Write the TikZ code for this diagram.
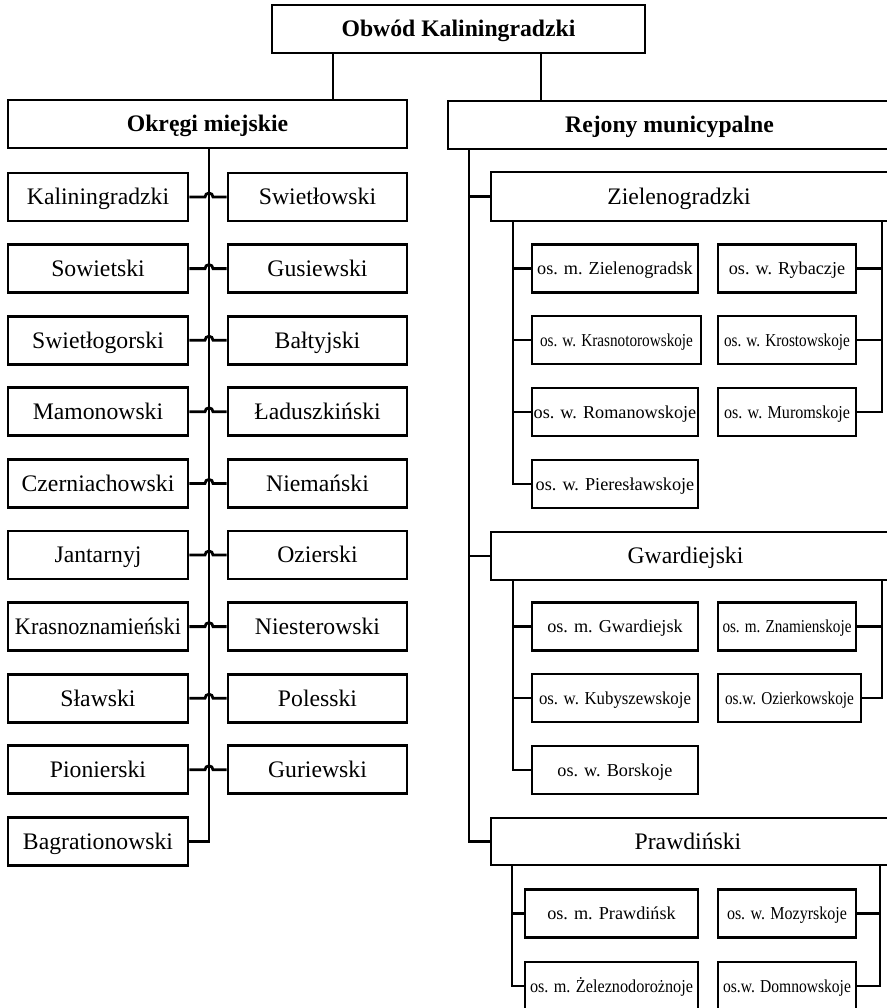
\documentclass[tikz,border=0pt]{standalone}
\usepackage{fontspec}
\setmainfont{Liberation Serif}
\usepackage{graphicx}
\usetikzlibrary{calc}
\newcommand\cw[2]{\resizebox{#1pt}{\height}{#2}}
\tikzset{
  box/.style={draw, line width=1.4pt, inner sep=0pt, minimum height=24pt, text height=7.8pt, text depth=0pt, font=\fontsize{11.85}{14}\selectfont},
  bbox/.style={box, font=\fontsize{11.85}{14}\selectfont\bfseries},
  lbox/.style={box, minimum width=90pt},
  rboxl/.style={box, minimum width=89.5pt},
  sbox/.style={draw, line width=1.4pt, inner sep=0pt, minimum height=24pt, text height=6pt, text depth=0pt, font=\fontsize{9.1}{11}\selectfont},
  ttext/.style={inner sep=0pt, text height=7.8pt, text depth=0pt, font=\fontsize{11.85}{14}\selectfont},
  conn/.style={line width=1.4pt},
}
\begin{document}
\begin{tikzpicture}[x=0.5pt,y=-0.5pt]
\useasboundingbox (0,0) rectangle (887,1008);
\clip (0,0) rectangle (887,1008);
% top level
\node[bbox, minimum width=186.5pt] (Top) at (458.5,29) {Obwód Kaliningradzki};
\node[bbox, minimum width=199.5pt] (Ok) at (207.5,124) {Okręgi miejskie};
\node[bbox, minimum width=221.5pt] (Rej) at (669.5,125) {Rejony municypalne};
\coordinate (c1) at (333,0);
\coordinate (c2) at (541,0);
\draw[conn] (Top.south -| c1) -- (Ok.north -| c1);
\draw[conn] (Top.south -| c2) -- (Rej.north -| c2);
% left column
\foreach \t [count=\i] in {Kaliningradzki,Sowietski,Swietłogorski,Mamonowski,Czerniachowski,Jantarnyj,{\cw{83}{Krasnoznamieński}},Sławski,Pionierski,Bagrationowski}
  \node[lbox] (L\i) at (98,{197+71.6*(\i-1)}) {\t};
\foreach \t [count=\i] in {Swietłowski,Gusiewski,Bałtyjski,Ładuszkiński,Niemański,Ozierski,Niesterowski,Polesski,Guriewski}
  \node[rboxl] (R\i) at (317.5,{197+71.6*(\i-1)}) {\t};
\coordinate (lt) at (209,148);
\draw[conn] (lt) |- (L10.east);
\foreach \i in {1,...,9}
  \draw[conn] (L\i.east) -- ($(L\i.east -| lt)+(-4,0)$) arc[start angle=180,end angle=0,radius=2pt] -- (R\i.west);
% right side: municipal districts
\node[box, minimum width=202pt, minimum height=24.5pt] (Z) at (693,196.5) {};
\node[ttext] (Zt) at (679,196.5) {Zielenogradzki};
\node[box, minimum width=202pt] (G) at (693,556) {};
\node[ttext] (Gt) at (685.5,556) {Gwardiejski};
\node[box, minimum width=202pt, minimum height=23.5pt] (P) at (693,841.5) {};
\node[ttext] (Pt) at (688,841.5) {Prawdiński};
\coordinate (rt) at (469,150);
\draw[conn] (rt) |- (P.west);
\draw[conn] (rt |- Z.west) -- (Z.west);
\draw[conn] (rt |- G.west) -- (G.west);
% Zielenogradzki
\node[sbox, minimum width=83pt] (Z1) at (615,268.5) {os. m. Zielenogradsk};
\node[sbox, minimum width=84.5pt] (Z2) at (616.5,340) {\cw{76.5}{os. w. Krasnotorowskoje}};
\node[sbox, minimum width=83pt] (Z3) at (615,412) {os. w. Romanowskoje};
\node[sbox, minimum width=83pt] (Z4) at (615,484) {os. w. Pieresławskoje};
\node[sbox, minimum width=69pt] (Z5) at (787,268.5) {os. w. Rybaczje};
\node[sbox, minimum width=69pt] (Z6) at (787,340) {\cw{63}{os. w. Krostowskoje}};
\node[sbox, minimum width=69pt] (Z7) at (787,412) {\cw{63}{os. w. Muromskoje}};
\coordinate (zl) at (513,221);
\coordinate (zr) at (882,221);
\draw[conn] (zl) |- (Z4.west);
\foreach \i in {1,2,3} \draw[conn] (zl |- Z\i.west) -- (Z\i.west);
\draw[conn] (zr) |- (Z7.east);
\foreach \i in {5,6} \draw[conn] (zr |- Z\i.east) -- (Z\i.east);
% Gwardiejski
\node[sbox, minimum width=83pt] (G1) at (615,626.5) {os. m. Gwardiejsk};
\node[sbox, minimum width=83pt] (G2) at (615,698) {\cw{76}{os. w. Kubyszewskoje}};
\node[sbox, minimum width=83pt] (G3) at (615,770) {os. w. Borskoje};
\node[sbox, minimum width=69pt] (G4) at (787,626.5) {\cw{64.5}{os. m. Znamienskoje}};
\node[sbox, minimum width=71.5pt] (G5) at (789.5,698) {\cw{64.5}{os.w. Ozierkowskoje}};
\coordinate (gl) at (513,580);
\coordinate (gr) at (882,580);
\draw[conn] (gl) |- (G3.west);
\foreach \i in {1,2} \draw[conn] (gl |- G\i.west) -- (G\i.west);
\draw[conn] (gr) |- (G5.east);
\draw[conn] (gr |- G4.east) -- (G4.east);
% Prawdinski
\node[sbox, minimum width=86.5pt] (P1) at (611.5,913.5) {os. m. Prawdińsk};
\node[sbox, minimum width=86.5pt] (P2) at (611.5,986) {\cw{81.5}{os. m. Żeleznodorożnoje}};
\node[sbox, minimum width=69pt] (P3) at (787,913.5) {\cw{60}{os. w. Mozyrskoje}};
\node[sbox, minimum width=69pt] (P4) at (787,986) {\cw{64}{os.w. Domnowskoje}};
\coordinate (pl) at (512,865);
\coordinate (pr) at (880,865);
\draw[conn] (pl) |- (P2.west);
\draw[conn] (pl |- P1.west) -- (P1.west);
\draw[conn] (pr) |- (P4.east);
\draw[conn] (pr |- P3.east) -- (P3.east);
\end{tikzpicture}
\end{document}
